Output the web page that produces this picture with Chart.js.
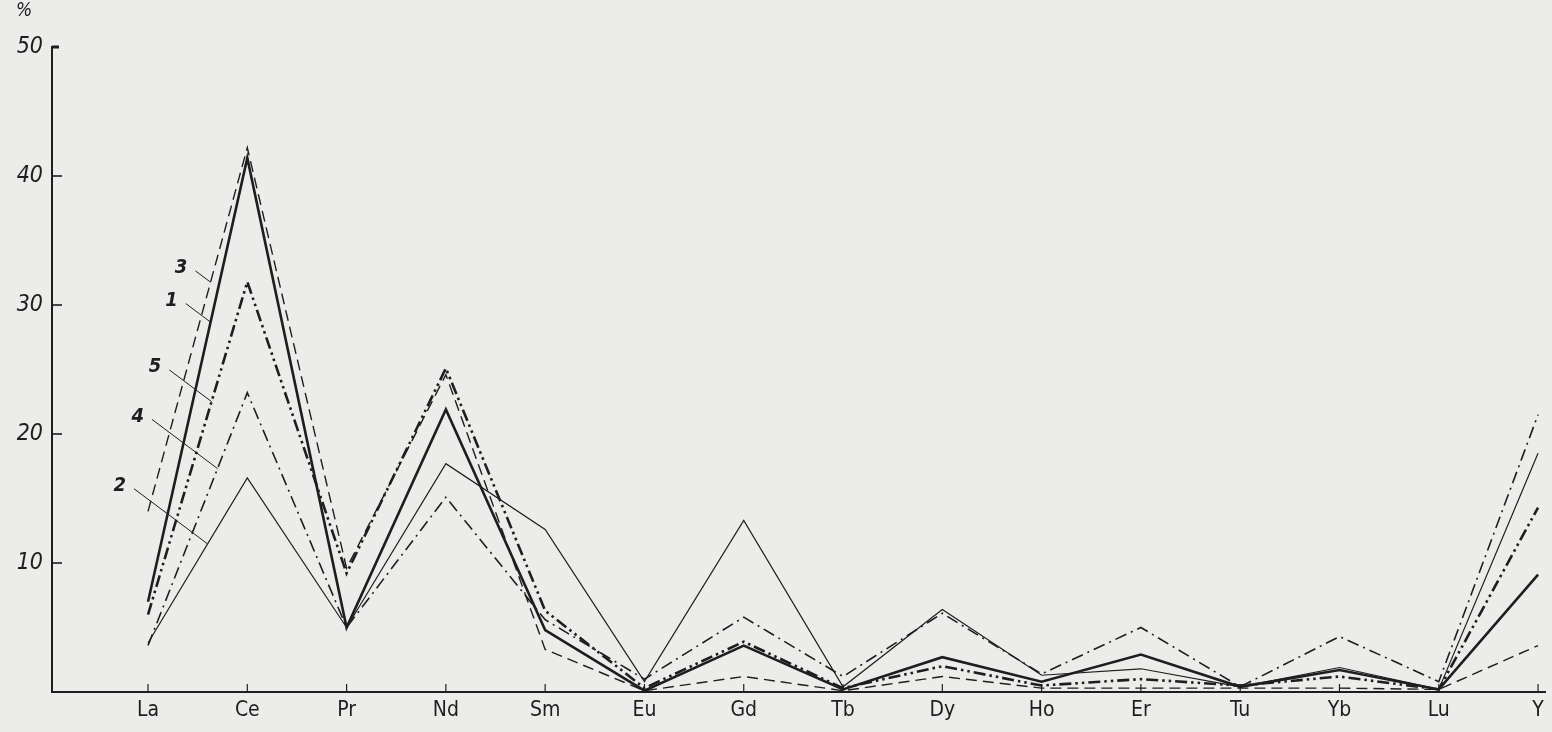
<!DOCTYPE html>
<html>
<head>
<meta charset="utf-8">
<script src="https://cdn.jsdelivr.net/npm/chart.js"></script>
<style>
  html, body { margin: 0; padding: 0; background: #ececea; }
  #grafico { display: block; }
</style>
</head>
<body>
<canvas id="grafico" width="1552" height="732"></canvas>
<script>
// ---------- Dados ----------
const elementos = ["La", "Ce", "Pr", "Nd", "Sm", "Eu", "Gd", "Tb", "Dy", "Ho", "Er", "Tu", "Yb", "Lu", "Y"];
const yTicks = [10, 20, 30, 40, 50];

const serie1 = [7.0, 41.4, 5.0, 21.9, 4.8, 0.1, 3.6, 0.2, 2.7, 0.8, 2.9, 0.4, 1.7, 0.2, 9.1];
const serie2 = [3.8, 16.6, 5.0, 17.7, 12.6, 0.8, 13.3, 0.4, 6.4, 1.3, 1.8, 0.4, 1.9, 0.2, 18.5];
const serie3 = [14.0, 42.2, 9.6, 24.6, 3.3, 0.1, 1.2, 0.1, 1.2, 0.3, 0.3, 0.3, 0.3, 0.2, 3.6];
const serie4 = [3.6, 23.2, 5.0, 15.1, 5.6, 1.0, 5.8, 1.2, 6.1, 1.4, 5.0, 0.4, 4.3, 0.8, 21.5];
const serie5 = [6.0, 31.8, 9.2, 25.1, 6.3, 0.3, 3.9, 0.3, 2.0, 0.5, 1.0, 0.5, 1.2, 0.2, 14.3];

const nomesSeries = ["1", "2", "3", "4", "5"];

// ---------- Estilo ----------
const tinta = "#1e1e1e";
const fonteEixo = "'DejaVu Sans Condensed', 'DejaVu Sans', sans-serif";

// rótulos 3,1,5,4,2 com linha de chamada entre La e Ce
const chamadas = [
  { nome: "3", dados: serie3, t: 0.63, comp: 19 },
  { nome: "1", dados: serie1, t: 0.63, comp: 31 },
  { nome: "5", dados: serie5, t: 0.64, comp: 53 },
  { nome: "4", dados: serie4, t: 0.7, comp: 82 },
  { nome: "2", dados: serie2, t: 0.6, comp: 92 },
];

function pontos(arr) {
  return arr.map((v, i) => ({ x: i, y: v }));
}

// ---------- Plugin: marcas internas, "%" e chamadas ----------
const decor = {
  id: "decor",
  afterDraw(chart) {
    const { ctx, scales: { x, y }, chartArea: a } = chart;
    ctx.save();
    ctx.strokeStyle = tinta;
    ctx.fillStyle = tinta;

    // marcas do eixo y (para dentro)
    ctx.lineWidth = 1.6;
    yTicks.forEach((v) => {
      const py = y.getPixelForValue(v);
      ctx.lineWidth = v === 50 ? 3 : 1.6;
      ctx.beginPath();
      ctx.moveTo(a.left, py);
      ctx.lineTo(a.left + (v === 50 ? 7 : 10), py);
      ctx.stroke();
    });

    // marcas do eixo x (para cima)
    ctx.lineWidth = 1.2;
    elementos.forEach((_, i) => {
      const px = x.getPixelForValue(i);
      ctx.beginPath();
      ctx.moveTo(px, a.bottom);
      ctx.lineTo(px, a.bottom - 8);
      ctx.stroke();
    });

    // símbolo de unidade
    ctx.font = "italic 19px " + fonteEixo;
    ctx.textAlign = "left";
    ctx.textBaseline = "middle";
    ctx.fillText("%", a.left - 36, a.top - 36);

    // chamadas das curvas
    ctx.lineWidth = 1;
    ctx.font = "italic bold 20px " + fonteEixo;
    ctx.textAlign = "right";
    chamadas.forEach((c) => {
      const v = c.dados[0] + (c.dados[1] - c.dados[0]) * c.t;
      const px = x.getPixelForValue(c.t);
      const py = y.getPixelForValue(v);
      const sx = px - c.comp * 0.8;
      const sy = py - c.comp * 0.6;
      ctx.beginPath();
      ctx.moveTo(sx, sy);
      ctx.lineTo(px, py);
      ctx.stroke();
      ctx.fillText(c.nome, sx - 8, sy - 3);
    });

    ctx.restore();
  },
};

// ---------- Gráfico ----------
new Chart(document.getElementById("grafico"), {
  type: "line",
  data: {
    datasets: [
      { label: nomesSeries[0], data: pontos(serie1), borderWidth: 2.6 },
      { label: nomesSeries[1], data: pontos(serie2), borderWidth: 1.2 },
      { label: nomesSeries[2], data: pontos(serie3), borderWidth: 1.4, borderDash: [11, 6] },
      { label: nomesSeries[3], data: pontos(serie4), borderWidth: 1.6, borderDash: [12, 5, 2, 5] },
      { label: nomesSeries[4], data: pontos(serie5), borderWidth: 2.6, borderDash: [12, 4, 2.5, 4, 2.5, 4] },
    ].map((d) => ({ ...d, borderColor: tinta, pointRadius: 0, tension: 0, fill: false })),
  },
  options: {
    responsive: false,
    animation: false,
    events: [],
    layout: { padding: { top: 47, right: 7, left: 0, bottom: 0 } },
    plugins: { legend: { display: false }, tooltip: { enabled: false } },
    scales: {
      x: {
        type: "linear",
        min: -0.967,
        max: 14.07,
        afterBuildTicks: (s) => { s.ticks = elementos.map((_, i) => ({ value: i })); },
        afterFit: (s) => { s.height = 40; },
        grid: { display: false, drawTicks: false },
        border: { color: tinta, width: 2 },
        ticks: {
          autoSkip: false,
          maxRotation: 0,
          padding: 6,
          color: tinta,
          font: { family: fonteEixo, size: 21 },
          callback: (v) => elementos[v] ?? "",
        },
      },
      y: {
        min: 0,
        max: 50,
        afterBuildTicks: (s) => { s.ticks = yTicks.map((v) => ({ value: v })); },
        afterFit: (s) => { s.width = 52; },
        grid: { display: false, drawTicks: false },
        border: { color: tinta, width: 2 },
        ticks: {
          padding: 9,
          color: tinta,
          font: { family: fonteEixo, size: 23, style: "italic" },
        },
      },
    },
  },
  plugins: [decor],
});
</script>
</body>
</html>
